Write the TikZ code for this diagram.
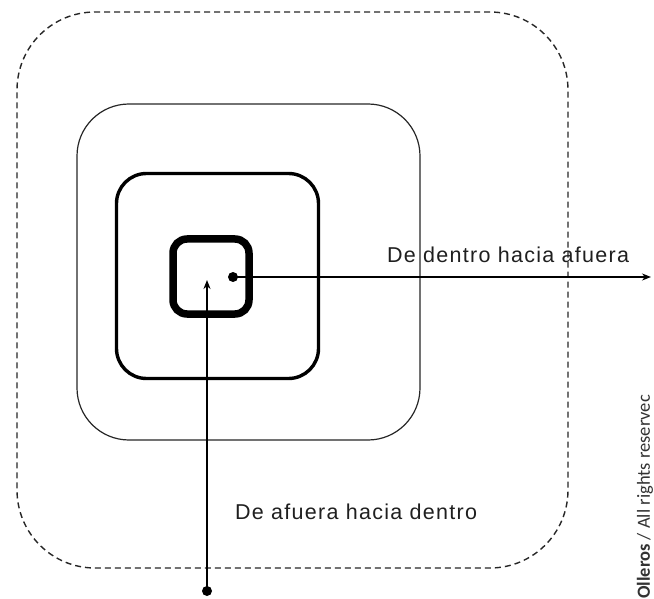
\documentclass[tikz,border=0pt]{standalone}
\usepackage{fontspec}
\setmainfont{Liberation Sans}
\newfontfamily\markfont{Carlito}
\usetikzlibrary{arrows.meta}

\tikzset{
  frame/.style={draw, rectangle, inner sep=0pt, fill=none},
  ring0/.style={frame, dashed, dash pattern=on 6pt off 4pt, line width=1.4pt, draw=black!85, rounded corners=78pt},
  ring1/.style={frame, line width=1.2pt, draw=black!85, rounded corners=52pt},
  ring2/.style={frame, line width=3.4pt, rounded corners=30pt},
  ring3/.style={frame, line width=7.5pt, rounded corners=14pt},
  flow/.style={line width=1.7pt, -{Stealth[length=9pt,width=7pt]}},
  dot/.style={circle, fill=black, inner sep=0pt, minimum size=10pt},
  caption/.style={inner sep=0pt, text=black!88,
    font=\fontsize{21.5}{25}\selectfont\addfontfeature{LetterSpace=6}}
}

\begin{document}
\begin{tikzpicture}[x=1pt, y=-1pt]
  \useasboundingbox (0,0) rectangle (654,599);

  % nested rounded squares, from outside in
  \node[ring0, minimum width=551pt, minimum height=556pt] (outer) at (292.5,290) {};
  \node[ring1, minimum width=343pt, minimum height=336pt] (mid) at (248.5,272) {};
  \node[ring2, minimum width=202pt, minimum height=205pt] (inner) at (217.5,276) {};
  \node[ring3, minimum width=76pt, minimum height=75pt] (core) at (211,276.5) {};

  % outward path
  \node[dot] (src) at (233,277) {};
  \coordinate (far) at (651,277);
  \draw[flow] (src.center) -- (far);
  \node[caption, anchor=base west] (outlbl) at (387,262) {De dentro hacia afuera};

  % inward path
  \node[dot] (ext) at (207,591) {};
  \coordinate (tip) at (207,280);
  \draw[flow] (ext.center) -- (tip);
  \node[caption, anchor=base west] (inlbl) at (235,519) {De afuera hacia dentro};

  % credit line
  \node[rotate=90, anchor=west, inner sep=0pt, text=black!80,
        font=\markfont\fontsize{18.5}{22}\selectfont] (credit) at (645,599)
    {\textbf{Olleros} / All rights reservec};
\end{tikzpicture}
\end{document}
